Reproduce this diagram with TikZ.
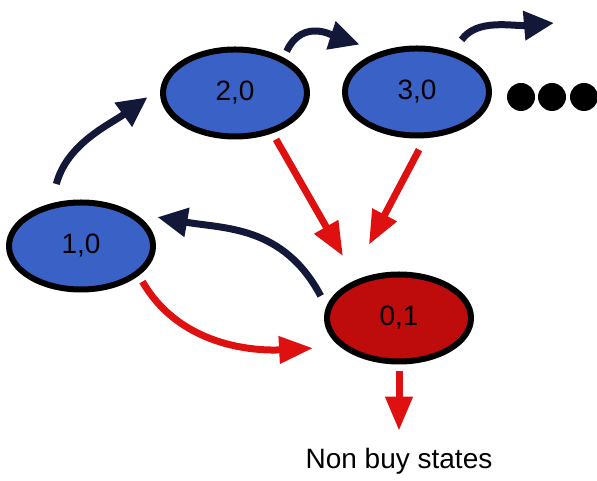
\documentclass[tikz,border=0pt]{standalone}
\usepackage{fontspec}
\setmainfont{Liberation Sans}
\usepackage{tikz}
\usepackage{xcolor}
\usetikzlibrary{arrows.meta,shapes.geometric}
\definecolor{stateblue}{RGB}{58,98,198}
\definecolor{statered}{RGB}{190,12,12}
\definecolor{arrownavy}{RGB}{20,24,56}
\definecolor{arrowred}{RGB}{222,16,16}
\tikzset{
    state/.style={
        ellipse, draw=black, line width=6pt,
        minimum width=144pt,
        minimum height=87pt, inner sep=0pt,
        font=\fontsize{28pt}{32pt}\selectfont, fill=stateblue
    },
    buy/.style={
        -{Triangle[length=30pt,width=28pt]},
        line width=7pt, draw=arrownavy
    },
    nobuy/.style={
        -{Triangle[length=34pt,width=26pt]},
        line width=7pt, draw=arrowred
    }
}

\begin{document}
\begin{tikzpicture}[x=1pt, y=1pt]
        \useasboundingbox (0,0) rectangle (597,481);

        % Buy states
        \node[state] (s10) at (81,235) {1,0};
        \node[state] (s20) at (235,388) {2,0};
        \node[state] (s30) at (417,389) {3,0};

        % Non buy state
        \node[state, fill=statered] (s01) at (399,163) {0,1};
        \node[inner sep=0pt, font=\fontsize{28pt}{32pt}\selectfont] (nonbuy)
            at (399,20) {Non buy states};

        % More states
        \foreach \x in {521,552,584}
            \fill (\x,384) circle (14);
        \coordinate (more) at (554,458);

        % Arrows between buy states
        \draw[buy, shorten <=20pt, shorten >=16pt] (s10.125) to[out=75,in=216] (s20.176);
        \draw[buy, shorten <=7pt, shorten >=22pt] (s20.36) to[out=65,in=162, looseness=1.2] (s30.132);
        \draw[buy, shorten <=14pt] (s30.48) to[out=55,in=185] (more);
        \draw[buy, shorten <=12pt, shorten >=24pt] (s01.171.6) to[out=118,in=-10, looseness=1.1] (s10.32);

        % Arrows to the non buy state
        \draw[nobuy, shorten <=7pt, shorten >=27pt] (s20.-47.5) -- (s01.138.6);
        \draw[nobuy, shorten <=13pt, shorten >=44pt] (s30.-80) -- (s01.146.5);
        \draw[nobuy, shorten <=7pt, shorten >=27pt] (s10.-27) to[out=-60,in=183] (s01.-154.5);
        \draw[nobuy, shorten <=7pt, shorten >=17pt] (s01.south) -- (nonbuy.north);

    \end{tikzpicture}
\end{document}
